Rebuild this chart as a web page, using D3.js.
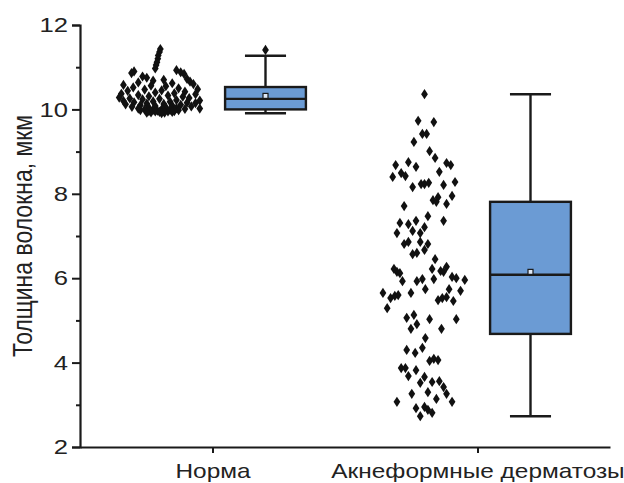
<!DOCTYPE html>
<html>
<head>
<meta charset="utf-8">
<script src="https://cdn.jsdelivr.net/npm/d3@7"></script>
<style>
  html, body { margin: 0; padding: 0; background: #fff; }
  svg { display: block; font-family: "Liberation Sans", Arial, sans-serif; }
</style>
</head>
<body>
<svg id="chart" width="624" height="483"></svg>
<script>
// Groups along the category axis
const categories = ["Норма", "Акнеформные дерматозы"];

// Individual measurements: [fibre thickness (µm), horizontal jitter in -1..1]
const normaPoints = [
  [11.43,0.02],[11.36,0.0],[11.28,-0.03],[11.2,-0.04],[11.12,-0.06],[11.05,-0.08],[10.97,-0.1],
  [10.9,-0.6],[10.86,-0.66],[10.93,0.4],[10.88,0.5],[10.84,0.58],[10.78,-0.4],[10.75,-0.3],
  [10.72,0.65],[10.7,0.1],[10.68,-0.15],[10.66,0.72],[10.64,-0.5],[10.62,0.3],[10.6,0.8],
  [10.58,-0.85],[10.56,-0.2],[10.55,0.15],[10.52,-0.62],[10.5,0.45],[10.48,0.9],[10.47,-0.35],
  [10.45,0.05],[10.44,-0.75],[10.42,0.6],[10.4,-0.1],[10.38,0.35],[10.37,-0.9],[10.36,0.85],
  [10.34,-0.5],[10.33,0.2],[10.31,-0.25],[10.3,0.55],[10.28,-0.95],[10.27,0.7],[10.26,-0.7],
  [10.25,0.0],[10.24,-0.4],[10.22,0.4],[10.21,0.95],[10.2,-0.85],[10.19,-0.15],[10.18,0.25],
  [10.17,-0.6],[10.16,0.65],[10.15,0.85],[10.14,-0.3],[10.13,0.1],[10.12,-0.8],[10.11,0.5],
  [10.1,-0.45],[10.09,0.3],[10.08,-0.1],[10.07,0.75],[10.06,-0.65],[10.05,0.15],[10.04,-0.25],
  [10.03,0.4],[10.02,-0.5],[10.02,0.95],[10.01,0.6],[10.0,-0.35],[10.0,0.05],[9.99,-0.15],
  [9.99,0.25],[9.98,0.45],[9.98,-0.45],[9.97,0.1],[9.97,-0.05],[9.96,0.35],[9.96,-0.25],
  [9.95,0.2],[9.95,-0.1],[9.94,0.0],[9.94,0.3],[9.93,-0.2],[9.92,0.12],[9.92,-0.3],[9.91,0.05]
];

const acnePoints = [
  [10.36,0],[9.73,-0.15],[9.70,0.22],[9.42,-0.05],[9.42,0.05],[9.23,-0.25],[9.01,0.12],
  [8.85,0.25],[8.68,-0.68],[8.75,-0.38],[8.64,-0.2],[8.73,0.52],[8.68,0.62],[8.40,-0.75],
  [8.49,-0.55],[8.42,-0.45],[8.52,0.35],[8.16,-0.28],[8.23,-0.08],[8.23,0],[8.26,0.1],
  [8.21,0.45],[8.28,0.72],[7.95,0.65],[7.92,0.32],[7.85,0.2],[7.81,0.28],[7.76,0.52],
  [7.71,-0.48],[7.47,0.08],[7.31,-0.58],[7.28,-0.38],[7.36,-0.2],[7.21,0],[7.36,0.45],
  [7.07,-0.65],[7.12,-0.28],[7.07,-0.1],[6.81,-0.48],[6.86,-0.38],[6.86,-0.1],[6.81,0.08],
  [6.57,-0.28],[6.60,-0.18],[6.67,0],[6.45,0.25],[6.22,-0.72],[6.15,-0.65],[6.12,-0.58],
  [6.22,0.18],[6.17,0.38],[6.27,0.52],[6.15,0.45],[5.93,-0.52],[5.93,-0.18],[5.98,-0.05],
  [5.98,0.22],[6.03,0.65],[6.00,0.75],[5.96,0.95],[5.74,0.02],[5.74,0.58],[5.70,0.85],
  [5.65,-0.98],[5.53,-0.8],[5.58,-0.7],[5.60,-0.62],[5.65,-0.32],[5.48,0.32],[5.53,0.42],
  [5.55,0.52],[5.46,0.68],[5.29,-0.88],[5.06,-0.42],[5.13,-0.25],[4.91,-0.18],[4.80,-0.32],
  [5.03,0.12],[4.80,0.4],[5.03,0.75],[4.58,0.02],[4.30,-0.42],[4.23,-0.22],[4.35,-0.05],
  [4.04,0.12],[4.09,0.22],[4.06,0.32],[3.87,-0.55],[3.87,-0.45],[3.82,-0.2],[3.68,-0.38],
  [3.66,0],[3.52,-0.1],[3.54,0.18],[3.56,0.35],[3.42,0.45],[3.30,0.08],[3.26,-0.3],
  [3.26,0.52],[3.14,0.28],[3.07,0.65],[3.07,-0.65],[2.92,-0.2],[2.95,0],[2.88,0.08],
  [2.81,0.18],[2.73,-0.1]
];

// Box summaries per group: whisker low, Q1, median, Q3, whisker high, mean
const whiskerLow  = [9.91, 2.73];
const q1Values    = [10.0, 4.68];
const medians     = [10.25, 6.08];
const q3Values    = [10.53, 7.81];
const whiskerHigh = [11.27, 10.36];
const means       = [10.32, 6.15];
const outliers    = [[11.41], []];

// Y axis ticks
const yMajorTicks = [2, 4, 6, 8, 10, 12];
const yMinorTicks = [3, 5, 7, 9, 11];

const svg = d3.select("#chart");
const axisColor = "#1a1a1a";
const textColor = "#222";
const textStretch = 1.22; // horizontally widened lettering

const x = d3.scalePoint().domain(categories).range([80, 610]).padding(0.5);
const y = d3.scaleLinear().domain([2, 12]).range([447, 25]);
const step = x.step();

// Y axis
const yAxis = d3.axisLeft(y).tickValues(yMajorTicks).tickSize(8).tickFormat(d3.format("d"));
const gy = svg.append("g").attr("transform", "translate(80,0)").call(yAxis);
gy.select(".domain").attr("stroke", axisColor).attr("stroke-width", 2.2);
gy.selectAll(".tick line").attr("stroke", axisColor).attr("stroke-width", 2);
gy.selectAll(".tick text")
  .attr("x", 0)
  .attr("transform", `translate(-12,0) scale(${textStretch},1)`)
  .attr("fill", textColor)
  .style("font-size", "21px");

const yMinor = d3.axisLeft(y).tickValues(yMinorTicks).tickSize(4).tickFormat("");
const gyMinor = svg.append("g").attr("transform", "translate(80,0)").call(yMinor);
gyMinor.select(".domain").remove();
gyMinor.selectAll(".tick line").attr("stroke", axisColor).attr("stroke-width", 2);

// X axis
const xAxis = d3.axisBottom(x).tickSize(6).tickSizeOuter(0).tickPadding(11);
const gx = svg.append("g").attr("transform", "translate(0,447)").call(xAxis);
gx.select(".domain").attr("stroke", axisColor).attr("stroke-width", 2.2);
gx.selectAll(".tick line").attr("stroke", axisColor).attr("stroke-width", 2);
gx.selectAll(".tick text")
  .attr("transform", `scale(${textStretch},1)`)
  .attr("fill", textColor)
  .style("font-size", "20px");

// Y axis title
svg.append("text")
  .attr("transform", `translate(32,236) rotate(-90) scale(1,${textStretch})`)
  .attr("text-anchor", "middle")
  .attr("fill", textColor)
  .style("font-size", "23px")
  .text("Толщина волокна, мкм");

// Jittered points left of each box
const scatterOffset = -0.2 * step;
const jitterHalf = 0.16 * step;
const diamond = d3.symbol().type(d3.symbolDiamond).size(30);
const groups = [normaPoints, acnePoints];

groups.forEach((pts, i) => {
  const cx = x(categories[i]) + scatterOffset;
  svg.append("g").selectAll("path")
    .data(pts)
    .join("path")
    .attr("d", diamond)
    .attr("transform", d => `translate(${cx + d[1] * jitterHalf},${y(d[0])}) scale(1.15,1)`)
    .attr("fill", "#111");
});

// Box plots right of each point cloud
const boxOffset = 0.2 * step;
const boxWidth = 0.305 * step;
const capWidth = 0.155 * step;
const boxFill = "#6b9bd4";

categories.forEach((c, i) => {
  const cx = x(c) + boxOffset;
  const g = svg.append("g");
  // whisker stems
  g.append("line")
    .attr("x1", cx).attr("x2", cx)
    .attr("y1", y(q3Values[i])).attr("y2", y(whiskerHigh[i]))
    .attr("stroke", axisColor).attr("stroke-width", 2.4);
  g.append("line")
    .attr("x1", cx).attr("x2", cx)
    .attr("y1", y(q1Values[i])).attr("y2", y(whiskerLow[i]))
    .attr("stroke", axisColor).attr("stroke-width", 2.4);
  // caps
  [whiskerHigh[i], whiskerLow[i]].forEach(v => {
    g.append("line")
      .attr("x1", cx - capWidth / 2).attr("x2", cx + capWidth / 2)
      .attr("y1", y(v)).attr("y2", y(v))
      .attr("stroke", axisColor).attr("stroke-width", 2.4);
  });
  // box
  g.append("rect")
    .attr("x", cx - boxWidth / 2)
    .attr("width", boxWidth)
    .attr("y", y(q3Values[i]))
    .attr("height", y(q1Values[i]) - y(q3Values[i]))
    .attr("fill", boxFill)
    .attr("stroke", axisColor).attr("stroke-width", 2.4);
  // median
  g.append("line")
    .attr("x1", cx - boxWidth / 2).attr("x2", cx + boxWidth / 2)
    .attr("y1", y(medians[i])).attr("y2", y(medians[i]))
    .attr("stroke", axisColor).attr("stroke-width", 2.4);
  // mean marker
  g.append("rect")
    .attr("x", cx - 2.5).attr("y", y(means[i]) - 2.5)
    .attr("width", 5).attr("height", 5)
    .attr("fill", "#dfe9f7")
    .attr("stroke", axisColor).attr("stroke-width", 1.2);
  // outliers
  g.selectAll("path.outlier")
    .data(outliers[i])
    .join("path")
    .attr("class", "outlier")
    .attr("d", diamond)
    .attr("transform", v => `translate(${cx},${y(v)}) scale(1.15,1)`)
    .attr("fill", "#111");
});
</script>
</body>
</html>
